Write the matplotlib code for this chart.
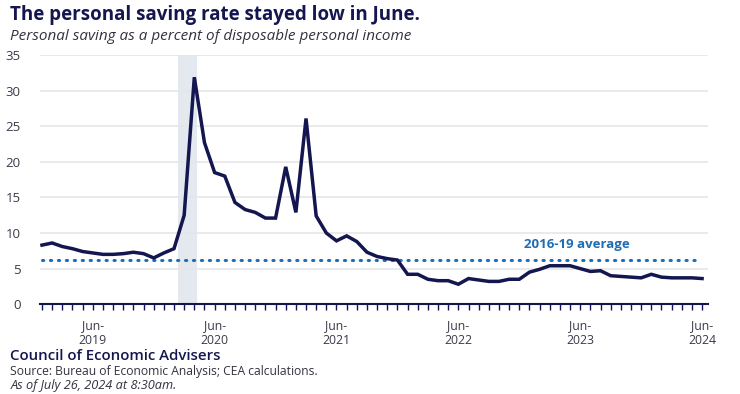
import numpy as np
import matplotlib.pyplot as plt

# personal saving rate, monthly Jan-2019 .. Jun-2024
months = ['2019-%02d' % m for m in range(1, 13)] + ['2020-%02d' % m for m in range(1, 13)] + \
         ['2021-%02d' % m for m in range(1, 13)] + ['2022-%02d' % m for m in range(1, 13)] + \
         ['2023-%02d' % m for m in range(1, 13)] + ['2024-%02d' % m for m in range(1, 7)]
saving_rate = [8.3, 8.6, 8.1, 7.8, 7.4, 7.2, 7.0, 7.0, 7.1, 7.3, 7.1, 6.5,
               7.2, 7.8, 12.5, 31.9, 22.7, 18.5, 18.0, 14.3, 13.3, 12.9, 12.1, 12.1,
               19.3, 12.9, 26.1, 12.4, 10.0, 8.9, 9.6, 8.8, 7.3, 6.7, 6.4, 6.2,
               4.2, 4.2, 3.5, 3.3, 3.3, 2.8, 3.6, 3.4, 3.2, 3.2, 3.5, 3.5,
               4.5, 4.9, 5.4, 5.4, 5.4, 5.0, 4.6, 4.7, 4.0, 3.9, 3.8, 3.7,
               4.2, 3.8, 3.7, 3.7, 3.7, 3.6]
avg_2016_19 = 6.2
recession = ('2020-02', '2020-04')
tick_months = ['2019-06', '2020-06', '2021-06', '2022-06', '2023-06', '2024-06']
tick_labels = ['Jun-\n2019', 'Jun-\n2020', 'Jun-\n2021', 'Jun-\n2022', 'Jun-\n2023', 'Jun-\n2024']

navy = '#14164f'
blue = '#1f6db3'
plt.rcParams['font.family'] = ['Open Sans', 'DejaVu Sans']

x = np.arange(len(months))
fig = plt.figure(figsize=(7.4, 3.94), dpi=100)
ax = fig.add_axes([0.054, 0.228, 0.903, 0.632])

# shaded recession months
r0 = months.index(recession[0]) + 0.4
r1 = months.index(recession[1]) + 0.3
ax.axvspan(r0, r1, color='#e4e8ef', lw=0, zorder=0)

ax.plot(x, saving_rate, color=navy, lw=2.5, solid_joinstyle='miter', zorder=3)
ax.plot([x[0], x[-1] - 0.4], [avg_2016_19, avg_2016_19], color=blue, lw=2.2,
        linestyle=(0, (0.4, 2.2)), dash_capstyle='round', zorder=2)
ax.text(52.7, avg_2016_19 + 1.3, '2016-19 average', color=blue, fontsize=9.5,
        fontweight='bold', ha='center', va='bottom')

ax.set_ylim(0, 35)
ax.set_yticks(range(0, 36, 5))
ax.set_xlim(-0.2, len(months) - 0.4)
ax.set_xticks(x, minor=True)
ax.set_xticks([months.index(m) for m in tick_months])
ax.set_xticklabels(tick_labels)
ax.grid(axis='y', color='#e6e6ea', lw=1.2)
ax.set_axisbelow(True)
for s in ['top', 'right', 'left']:
    ax.spines[s].set_visible(False)
ax.spines['bottom'].set_color(navy)
ax.spines['bottom'].set_linewidth(1.5)
ax.tick_params(axis='y', length=0, labelsize=9.5, labelcolor='#3a3a4a', pad=14)
ax.tick_params(axis='x', which='both', direction='out', length=4, width=1, color=navy,
               labelsize=8.8, labelcolor='#3a3a4a', pad=7)

fig.text(0.014, 0.962, 'The personal saving rate stayed low in June.', fontsize=13.5,
         fontweight='bold', color=navy, va='center')
fig.text(0.014, 0.908, 'Personal saving as a percent of disposable personal income', fontsize=11,
         style='italic', color='#333340', va='center')
fig.text(0.014, 0.097, 'Council of Economic Advisers', fontsize=10.8, fontweight='semibold',
         color=navy, va='center')
fig.text(0.014, 0.058, 'Source: Bureau of Economic Analysis; CEA calculations.', fontsize=8.7,
         color='#333340', va='center')
fig.text(0.014, 0.022, 'As of July 26, 2024 at 8:30am.', fontsize=9.2, style='italic',
         color='#333340', va='center')

fig.savefig('out.png', dpi=100)
